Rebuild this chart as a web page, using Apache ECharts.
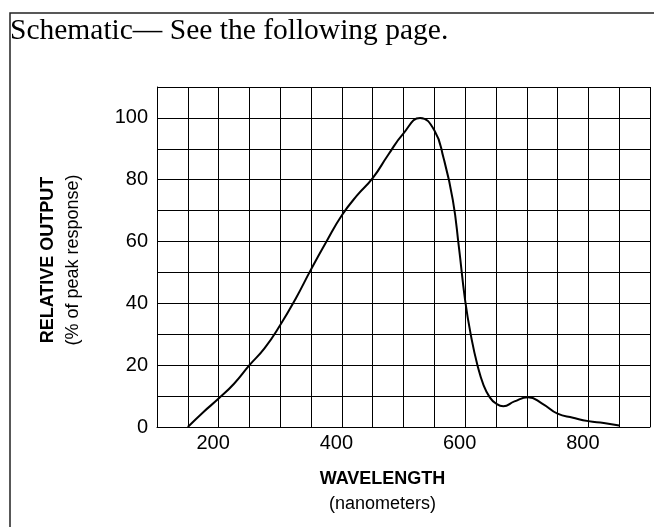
<!DOCTYPE html>
<html lang="en">
  <head>
    <meta charset="UTF-8" />
    <title>Relative output vs wavelength</title>
    <script src="https://cdn.jsdelivr.net/npm/echarts@6/dist/echarts.min.js"></script>
    <style>
      html, body { margin: 0; padding: 0; background: #fff; }
      #app { width: 654px; height: 527px; }
    </style>
  </head>
  <body>
    <div id="app"></div>
    <script>
      // wavelength (nm) and relative output (% of peak)
      const wavelength = [150, 175, 200, 225, 250, 275, 300, 325, 350, 375, 400, 425, 450, 475, 500, 527, 550, 565, 580, 590, 600, 610, 620, 630, 640, 650, 662, 680, 702, 725, 750, 775, 800, 825, 850];
      const output = [0, 4.8, 9.2, 14, 20, 25.6, 33, 41.5, 51, 60, 68.5, 75, 80.5, 88, 95, 100, 96, 87, 73.5, 58, 41, 29, 20, 13.5, 9.6, 7.6, 6.7, 8.3, 9.6, 7.6, 4.3, 3, 1.9, 1.3, 0.5];

      const xTickLabels = [200, 400, 600, 800];
      const yTickLabels = [0, 20, 40, 60, 80, 100];

      const points = wavelength.map((w, i) => [w, output[i]]);
      const line = { lineStyle: { color: "#000", width: 1 } };

      const chart = echarts.init(document.getElementById("app"));

      chart.setOption({
        animation: false,
        backgroundColor: "#fff",
        grid: { left: 157, top: 87, right: 4, bottom: 100 },
        graphic: [
          {
            type: "polyline",
            shape: { points: [[10, 540], [10, 13], [660, 13]] },
            style: { stroke: "#222", lineWidth: 1.5, fill: null },
          },
          {
            type: "text",
            left: 10,
            top: 16,
            style: {
              text: "Schematic\u2014 See the following page.",
              font: '29.5px "Liberation Serif", "Times New Roman", serif',
              fill: "#000",
            },
          },
        ],
        xAxis: {
          type: "value",
          min: 100,
          max: 900,
          interval: 50,
          name: "{b|WAVELENGTH}\n{n|(nanometers)}",
          nameLocation: "middle",
          nameGap: 40,
          nameTextStyle: {
            padding: [0, 42, 0, 0],
            rich: {
              b: { fontFamily: "Liberation Sans", fontSize: 18, fontWeight: "bold", color: "#000", lineHeight: 25 },
              n: { fontFamily: "Liberation Sans", fontSize: 18, color: "#000", lineHeight: 25 },
            },
          },
          axisLine: line,
          axisTick: { show: false },
          splitLine: line,
          axisLabel: {
            margin: 6,
            fontFamily: "Liberation Sans",
            fontSize: 20,
            color: "#000",
            padding: [0, 11, 0, 0],
            formatter: (v) => (xTickLabels.includes(v) ? String(v) : ""),
          },
        },
        yAxis: {
          type: "value",
          min: 0,
          max: 110,
          interval: 10,
          name: "{b|RELATIVE OUTPUT}\n{n|(% of peak response)}",
          nameLocation: "middle",
          nameGap: 71,
          nameTextStyle: {
            padding: [0, 6, 0, 0],
            rich: {
              b: { fontFamily: "Liberation Sans", fontSize: 18, fontWeight: "bold", color: "#000", lineHeight: 25 },
              n: { fontFamily: "Liberation Sans", fontSize: 18, color: "#000", lineHeight: 25 },
            },
          },
          axisLine: { show: true, lineStyle: { color: "#000", width: 1 } },
          axisTick: { show: false },
          splitLine: line,
          axisLabel: {
            margin: 9,
            fontFamily: "Liberation Sans",
            fontSize: 20,
            color: "#000",
            formatter: (v) => (yTickLabels.includes(v) ? String(v) : ""),
          },
        },
        series: [
          {
            type: "line",
            data: points,
            smooth: 0.5,
            symbol: "none",
            lineStyle: { color: "#000", width: 2 },
          },
        ],
      });
    </script>
  </body>
</html>
